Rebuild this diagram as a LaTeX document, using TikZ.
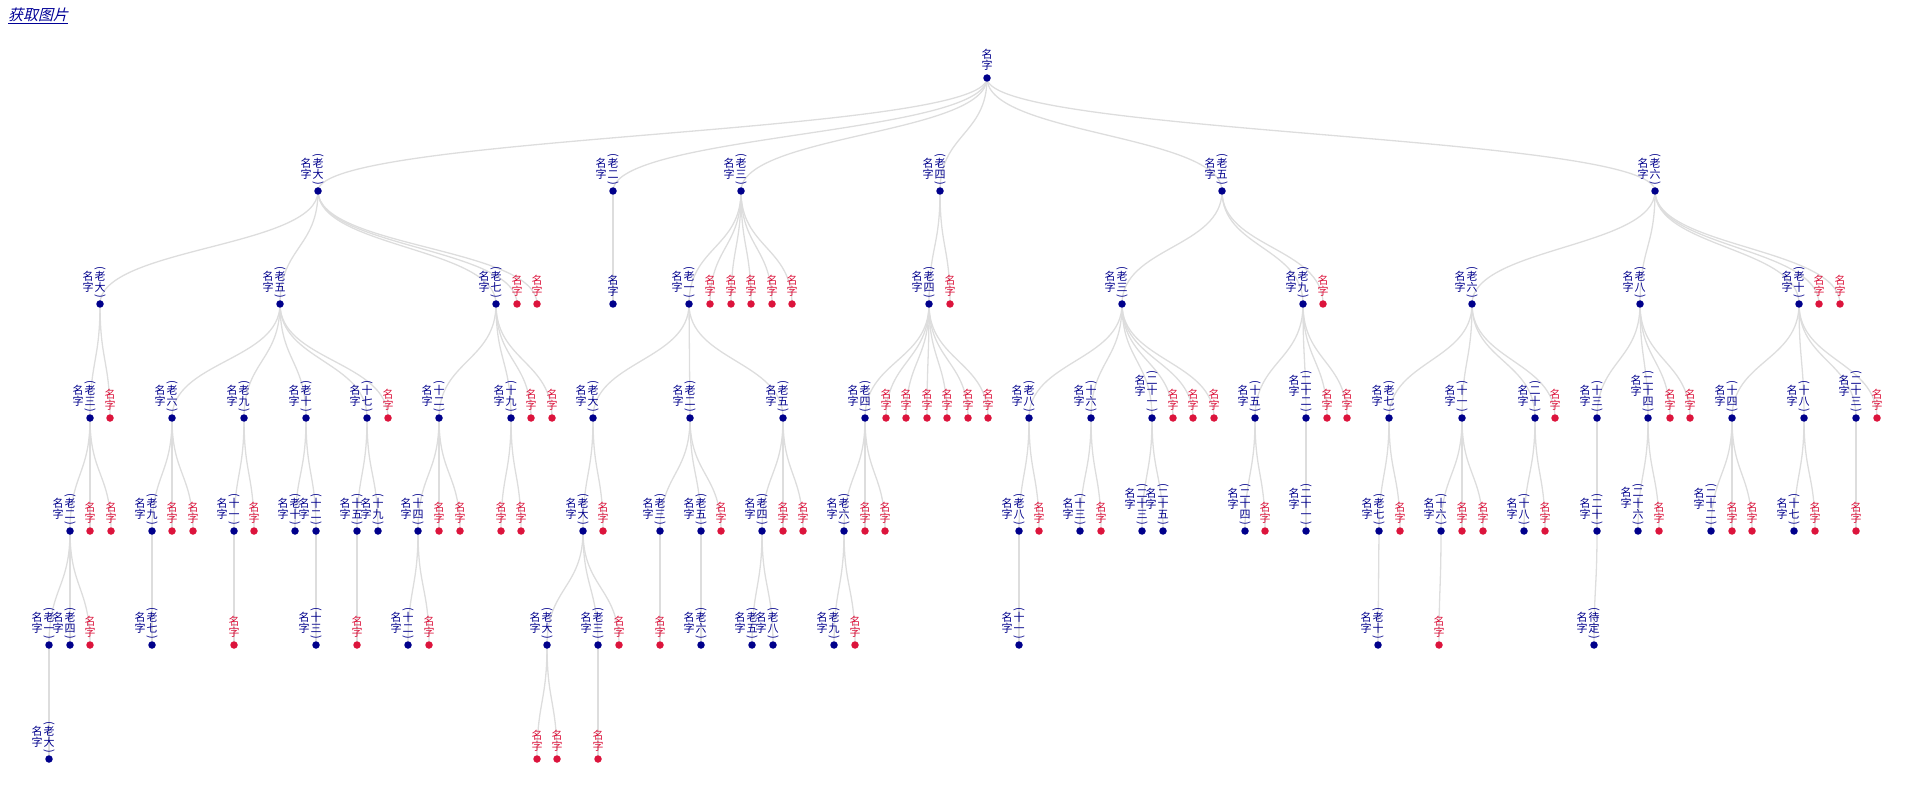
\documentclass[tikz,border=0pt]{standalone}
\usepackage{fontspec}
\usetikzlibrary{backgrounds,calc}
\newfontfamily\cjk{Noto Sans CJK SC}
\newfontfamily\cjkit{Noto Sans CJK SC}[FakeSlant=0.25]
\definecolor{mynavy}{RGB}{0,0,139}
\definecolor{mycrim}{RGB}{220,20,60}
\definecolor{edgegray}{RGB}{221,221,221}
\definecolor{linkblue}{RGB}{0,0,150}
\tikzset{
 dotb/.style={circle,fill=mynavy,inner sep=0pt,minimum size=7.5pt},
 dotr/.style={circle,fill=mycrim,inner sep=0pt,minimum size=7.5pt},
 colb/.style={text=mynavy,font=\cjk\fontsize{11}{11}\selectfont,inner sep=0pt},
 colr/.style={colb,text=mycrim},
 edge/.style={draw=edgegray,line width=1.3pt},
}
\newcommand\ch[1]{\hbox to 11pt{\hss\vrule height9pt depth1.6pt width0pt #1\hss}}
\newcommand\pco{\hbox to 11pt{\hss\rotatebox{-90}{(}\hss}}
\newcommand\pcc{\hbox to 11pt{\hss\rotatebox{-90}{)}\hss}}
\newcommand\vc[1]{\vbox{\offinterlineskip #1}}
\newcommand\vcp[1]{\vbox{\offinterlineskip\pco\kern1pt #1\kern1pt\pcc}}
\newcommand\mz{\ch{名}\ch{字}}
\newcommand\tlink[2]{\begin{pgfonlayer}{background}\draw[edge] (#1.center) .. controls ($(#1.center)+(0,56.75)$) and ($(#2.center)-(0,56.75)$) .. (#2.center);\end{pgfonlayer}}
\newcommand\NB[5]{%
 \node[dotb] (#1) at (#2,#3) {};
 \node[colb,anchor=south] (#1t) at ([yshift=2pt]#1.north) {\vcp{#4}};
 \node[colb,anchor=north east] (#1l) at ([xshift=-0.5pt,yshift=-4.5pt]#1t.north west) {\vc{\mz}};
 \tlink{#5}{#1}}
\newcommand\NP[4]{%
 \node[dotb] (#1) at (#2,#3) {};
 \node[colb,anchor=south] (#1t) at ([yshift=3pt]#1.north) {\vc{\mz}};
 \tlink{#4}{#1}}
\newcommand\NR[4]{%
 \node[dotr] (#1) at (#2,#3) {};
 \node[colr,anchor=south] (#1t) at ([yshift=3pt]#1.north) {\vc{\mz}};
 \tlink{#4}{#1}}
\begin{document}
\begin{tikzpicture}[x=1pt,y=-1pt]
\useasboundingbox (0,0) rectangle (1920,786);
\node[anchor=north west,text=linkblue,font=\cjkit\fontsize{15}{15}\selectfont,inner sep=0pt] (lnk) at (8,8) {\underline{获取图片}};
% root
\node[dotb] (r0) at (987,78) {};
\node[colb,anchor=south] (r0t) at ([yshift=3pt]r0.north) {\vc{\mz}};
% L2
\NB{a1}{318}{191}{\ch{老}\ch{大}}{r0}
\NB{a2}{613}{191}{\ch{老}\ch{二}}{r0}
\NB{a3}{741}{191}{\ch{老}\ch{三}}{r0}
\NB{a4}{940}{191}{\ch{老}\ch{四}}{r0}
\NB{a5}{1222}{191}{\ch{老}\ch{五}}{r0}
\NB{a6}{1655}{191}{\ch{老}\ch{六}}{r0}
% L3
\NB{b1}{100}{304}{\ch{老}\ch{大}}{a1}
\NB{b2}{280}{304}{\ch{老}\ch{五}}{a1}
\NB{b3}{496}{304}{\ch{老}\ch{七}}{a1}
\NR{b4}{517}{304}{a1}
\NR{b5}{537}{304}{a1}
\NP{b6}{613}{304}{a2}
\NB{b7}{689}{304}{\ch{老}\ch{一}}{a3}
\NR{b8}{710}{304}{a3}
\NR{b9}{731}{304}{a3}
\NR{b10}{751}{304}{a3}
\NR{b11}{772}{304}{a3}
\NR{b12}{792}{304}{a3}
\NB{b13}{929}{304}{\ch{老}\ch{四}}{a4}
\NR{b14}{950}{304}{a4}
\NB{b15}{1122}{304}{\ch{老}\ch{三}}{a5}
\NB{b16}{1303}{304}{\ch{老}\ch{九}}{a5}
\NR{b17}{1323}{304}{a5}
\NB{b18}{1472}{304}{\ch{老}\ch{六}}{a6}
\NB{b19}{1640}{304}{\ch{老}\ch{八}}{a6}
\NB{b20}{1799}{304}{\ch{老}\ch{十}}{a6}
\NR{b21}{1819}{304}{a6}
\NR{b22}{1840}{304}{a6}
% L4
\NB{c1}{90}{418}{\ch{老}\ch{三}}{b1}
\NR{c2}{110}{418}{b1}
\NB{c3}{172}{418}{\ch{老}\ch{六}}{b2}
\NB{c4}{244}{418}{\ch{老}\ch{九}}{b2}
\NB{c5}{306}{418}{\ch{老}\ch{十}}{b2}
\NB{c6}{367}{418}{\ch{十}\ch{七}}{b2}
\NR{c7}{388}{418}{b2}
\NB{c8}{439}{418}{\ch{十}\ch{二}}{b3}
\NB{c9}{511}{418}{\ch{十}\ch{九}}{b3}
\NR{c10}{531}{418}{b3}
\NR{c11}{552}{418}{b3}
\NB{c12}{593}{418}{\ch{老}\ch{大}}{b7}
\NB{c13}{690}{418}{\ch{老}\ch{二}}{b7}
\NB{c14}{783}{418}{\ch{老}\ch{五}}{b7}
\NB{c15}{865}{418}{\ch{老}\ch{四}}{b13}
\NR{c16}{886}{418}{b13}
\NR{c17}{906}{418}{b13}
\NR{c18}{927}{418}{b13}
\NR{c19}{947}{418}{b13}
\NR{c20}{968}{418}{b13}
\NR{c21}{988}{418}{b13}
\NB{c22}{1029}{418}{\ch{老}\ch{八}}{b15}
\NB{c23}{1091}{418}{\ch{十}\ch{六}}{b15}
\NB{c24}{1152}{418}{\ch{二}\ch{十}\ch{一}}{b15}
\NR{c25}{1173}{418}{b15}
\NR{c26}{1193}{418}{b15}
\NR{c27}{1214}{418}{b15}
\NB{c28}{1255}{418}{\ch{十}\ch{五}}{b16}
\NB{c29}{1306}{418}{\ch{二}\ch{十}\ch{二}}{b16}
\NR{c30}{1327}{418}{b16}
\NR{c31}{1347}{418}{b16}
\NB{c32}{1389}{418}{\ch{老}\ch{七}}{b18}
\NB{c33}{1462}{418}{\ch{十}\ch{一}}{b18}
\NB{c34}{1535}{418}{\ch{二}\ch{十}}{b18}
\NR{c35}{1555}{418}{b18}
\NB{c36}{1597}{418}{\ch{十}\ch{三}}{b19}
\NB{c37}{1648}{418}{\ch{二}\ch{十}\ch{四}}{b19}
\NR{c38}{1670}{418}{b19}
\NR{c39}{1690}{418}{b19}
\NB{c40}{1732}{418}{\ch{十}\ch{四}}{b20}
\NB{c41}{1804}{418}{\ch{十}\ch{八}}{b20}
\NB{c42}{1856}{418}{\ch{二}\ch{十}\ch{三}}{b20}
\NR{c43}{1877}{418}{b20}
% L5
\NB{d1}{70}{531}{\ch{老}\ch{二}}{c1}
\NR{d2}{90}{531}{c1}
\NR{d3}{111}{531}{c1}
\NB{d4}{152}{531}{\ch{老}\ch{九}}{c3}
\NR{d5}{172}{531}{c3}
\NR{d6}{193}{531}{c3}
\NB{d7}{234}{531}{\ch{十}\ch{一}}{c4}
\NR{d8}{254}{531}{c4}
\NB{d9}{295}{531}{\ch{老}\ch{十}}{c5}
\NB{d10}{316}{531}{\ch{十}\ch{二}}{c5}
\NB{d11}{357}{531}{\ch{十}\ch{五}}{c6}
\NB{d12}{378}{531}{\ch{十}\ch{九}}{c6}
\NB{d13}{418}{531}{\ch{十}\ch{四}}{c8}
\NR{d14}{439}{531}{c8}
\NR{d15}{460}{531}{c8}
\NR{d16}{501}{531}{c9}
\NR{d17}{521}{531}{c9}
\NB{d18}{583}{531}{\ch{老}\ch{大}}{c12}
\NR{d19}{603}{531}{c12}
\NB{d20}{660}{531}{\ch{老}\ch{三}}{c13}
\NB{d21}{701}{531}{\ch{老}\ch{五}}{c13}
\NR{d22}{721}{531}{c13}
\NB{d23}{762}{531}{\ch{老}\ch{四}}{c14}
\NR{d24}{783}{531}{c14}
\NR{d25}{803}{531}{c14}
\NB{d26}{844}{531}{\ch{老}\ch{六}}{c15}
\NR{d27}{865}{531}{c15}
\NR{d28}{885}{531}{c15}
\NB{d29}{1019}{531}{\ch{老}\ch{八}}{c22}
\NR{d30}{1039}{531}{c22}
\NB{d31}{1080}{531}{\ch{十}\ch{三}}{c23}
\NR{d32}{1101}{531}{c23}
\NB{d33}{1142}{531}{\ch{二}\ch{十}\ch{三}}{c24}
\NB{d34}{1163}{531}{\ch{二}\ch{十}\ch{五}}{c24}
\NB{d35}{1245}{531}{\ch{二}\ch{十}\ch{四}}{c28}
\NR{d36}{1265}{531}{c28}
\NB{d37}{1306}{531}{\ch{二}\ch{十}\ch{一}}{c29}
\NB{d38}{1379}{531}{\ch{老}\ch{七}}{c32}
\NR{d39}{1400}{531}{c32}
\NB{d40}{1441}{531}{\ch{十}\ch{六}}{c33}
\NR{d41}{1462}{531}{c33}
\NR{d42}{1483}{531}{c33}
\NB{d43}{1524}{531}{\ch{十}\ch{八}}{c34}
\NR{d44}{1545}{531}{c34}
\NB{d45}{1597}{531}{\ch{二}\ch{十}}{c36}
\NB{d46}{1638}{531}{\ch{二}\ch{十}\ch{六}}{c37}
\NR{d47}{1659}{531}{c37}
\NB{d48}{1711}{531}{\ch{二}\ch{十}\ch{二}}{c40}
\NR{d49}{1732}{531}{c40}
\NR{d50}{1752}{531}{c40}
\NB{d51}{1794}{531}{\ch{十}\ch{七}}{c41}
\NR{d52}{1815}{531}{c41}
\NR{d53}{1856}{531}{c42}
% L6
\NB{e1}{49}{645}{\ch{老}\ch{一}}{d1}
\NB{e2}{70}{645}{\ch{老}\ch{四}}{d1}
\NR{e3}{90}{645}{d1}
\NB{e4}{152}{645}{\ch{老}\ch{七}}{d4}
\NR{e5}{234}{645}{d7}
\NB{e6}{316}{645}{\ch{十}\ch{三}}{d10}
\NR{e7}{357}{645}{d11}
\NB{e8}{408}{645}{\ch{十}\ch{二}}{d13}
\NR{e9}{429}{645}{d13}
\NB{e10}{547}{645}{\ch{老}\ch{大}}{d18}
\NB{e11}{598}{645}{\ch{老}\ch{三}}{d18}
\NR{e12}{619}{645}{d18}
\NR{e13}{660}{645}{d20}
\NB{e14}{701}{645}{\ch{老}\ch{六}}{d21}
\NB{e15}{752}{645}{\ch{老}\ch{五}}{d23}
\NB{e16}{773}{645}{\ch{老}\ch{八}}{d23}
\NB{e17}{834}{645}{\ch{老}\ch{九}}{d26}
\NR{e18}{855}{645}{d26}
\NB{e19}{1019}{645}{\ch{十}\ch{一}}{d29}
\NB{e20}{1378}{645}{\ch{老}\ch{十}}{d38}
\NR{e21}{1439}{645}{d40}
\NB{e22}{1594}{645}{\ch{待}\ch{定}}{d45}
% L7
\NB{f1}{49}{759}{\ch{老}\ch{大}}{e1}
\NR{f2}{537}{759}{e10}
\NR{f3}{557}{759}{e10}
\NR{f4}{598}{759}{e11}
\end{tikzpicture}
\end{document}
